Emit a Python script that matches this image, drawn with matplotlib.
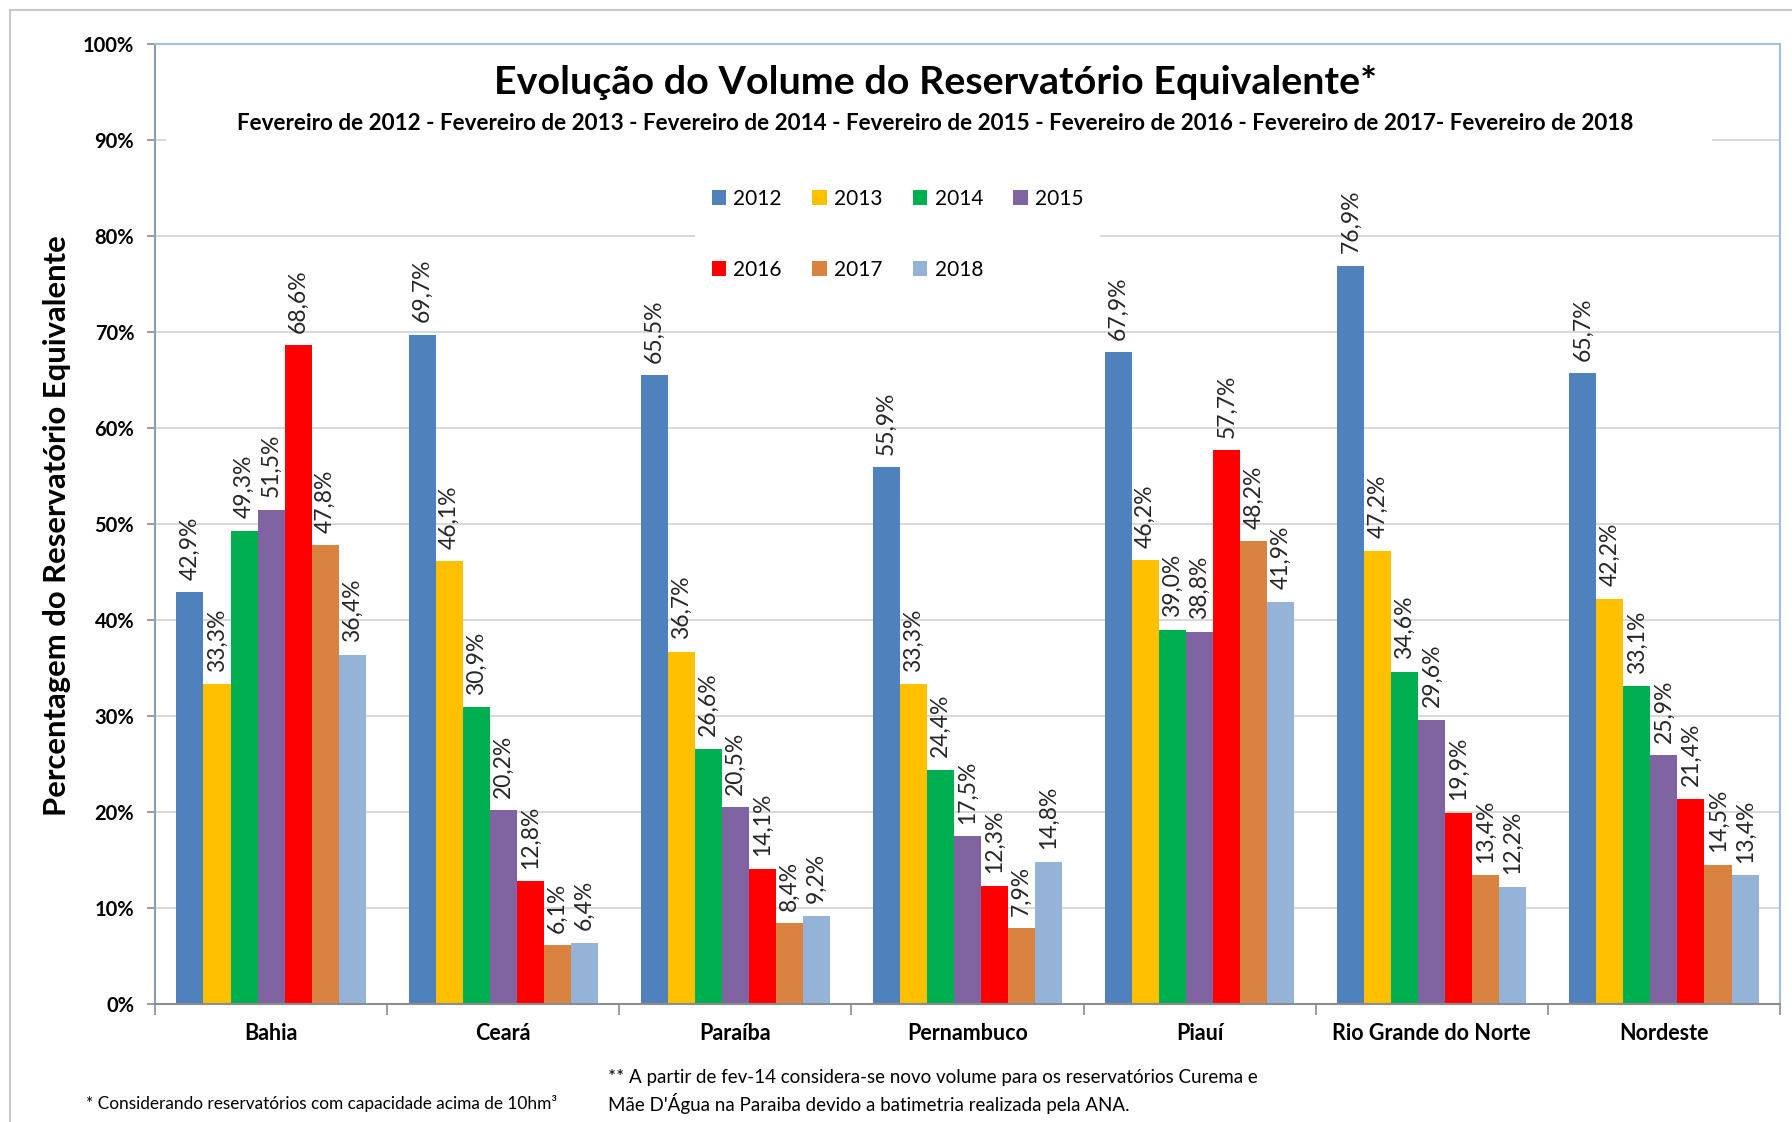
import matplotlib
matplotlib.use("Agg")
import matplotlib.pyplot as plt
import numpy as np
from matplotlib.patches import Rectangle
from matplotlib.lines import Line2D

plt.rcParams["font.family"] = ["Lato", "DejaVu Sans"]

categories = ["Bahia", "Ceará", "Paraíba", "Pernambuco", "Piauí",
              "Rio Grande do Norte", "Nordeste"]
years = ["2012", "2013", "2014", "2015", "2016", "2017", "2018"]

v2012 = [42.9, 69.7, 65.5, 55.9, 67.9, 76.9, 65.7]
v2013 = [33.3, 46.1, 36.7, 33.3, 46.2, 47.2, 42.2]
v2014 = [49.3, 30.9, 26.6, 24.4, 39.0, 34.6, 33.1]
v2015 = [51.5, 20.2, 20.5, 17.5, 38.8, 29.6, 25.9]
v2016 = [68.6, 12.8, 14.1, 12.3, 57.7, 19.9, 21.4]
v2017 = [47.8, 6.1, 8.4, 7.9, 48.2, 13.4, 14.5]
v2018 = [36.4, 6.4, 9.2, 14.8, 41.9, 12.2, 13.4]
series = [v2012, v2013, v2014, v2015, v2016, v2017, v2018]

colors = ["#4F81BD", "#FFC000", "#00B050", "#8064A2",
          "#FF0000", "#DA8340", "#95B3D7"]

fig = plt.figure(figsize=(17.92, 11.22), dpi=100)
ax = fig.add_axes([155 / 1792, 118 / 1122, 1625 / 1792, 960 / 1122])

x = np.arange(len(categories))
w = 0.1165
handles = []
for i, (vals, yr, c) in enumerate(zip(series, years, colors)):
    pos = x + (i - 3) * w
    b = ax.bar(pos, vals, width=w, color=c, label=yr, zorder=2)
    handles.append(b)
    for px, v in zip(pos, vals):
        ax.annotate(f"{v:.1f}%".replace(".", ","), (px, v),
                    xytext=(0, 9), textcoords="offset points",
                    rotation=90, ha="center", va="bottom",
                    fontsize=16.5, color="#262626", zorder=3)

ax.set_xlim(-0.5, len(categories) - 0.5)
ax.set_ylim(0, 100)
ax.set_yticks(np.arange(0, 101, 10))
ax.set_yticklabels([f"{t}%" for t in range(0, 101, 10)],
                   fontsize=14.5, fontweight="bold")
ax.set_xticks(x)
ax.set_xticklabels(categories, fontsize=15.5, fontweight="bold")
ax.set_xticks(np.arange(-0.5, len(categories)), minor=True)
ax.tick_params(axis="x", which="major", length=0, pad=14)
ax.tick_params(axis="x", which="minor", length=8, color="#8C8C8C", width=1.2)
ax.tick_params(axis="y", length=6, color="#8C8C8C", width=1.2, pad=9)

ax.grid(axis="y", color="#D9D9D9", linewidth=1.5, zorder=0)
ax.set_axisbelow(True)
ax.spines["left"].set_color("#8A9BB3")
ax.spines["bottom"].set_color("#8C8C8C")
ax.spines["top"].set_color("#A6BDDB")
ax.spines["right"].set_color("#A6BDDB")
for s in ax.spines.values():
    s.set_linewidth(1.5)

# white box behind the title block
ax.add_patch(Rectangle((0.007, 0.86), 0.951, 0.13, transform=ax.transAxes,
                       facecolor="white", edgecolor="none", zorder=1.5))

order = [0, 4, 1, 5, 2, 6, 3]
leg = ax.legend([handles[i] for i in order], [years[i] for i in order],
                ncol=4, loc="center", bbox_to_anchor=(0.457, 0.802),
                fontsize=15, frameon=True, facecolor="white", edgecolor="none",
                framealpha=1, fancybox=False, handlelength=0.7,
                handleheight=0.7, handletextpad=0.35, columnspacing=1.45,
                labelspacing=2.45, borderpad=0.8)
leg.set_zorder(4)

fig.text(935 / 1792, 1 - 82 / 1122,
         "Evolução do Volume do Reservatório Equivalente*",
         ha="center", va="center", fontsize=28.4, fontweight="bold")
fig.text(935 / 1792, 1 - 123 / 1122,
         "Fevereiro de 2012 - Fevereiro de 2013 - Fevereiro de 2014 - "
         "Fevereiro de 2015 - Fevereiro de 2016 - Fevereiro de 2017- "
         "Fevereiro de 2018",
         ha="center", va="center", fontsize=16.2, fontweight="bold")

fig.text(57 / 1792, 1 - 526 / 1122, "Percentagem do Reservatório Equivalente",
         rotation=90, ha="center", va="center", fontsize=22.3, fontweight="bold")

fig.text(86 / 1792, 1 - 1103 / 1122,
         "* Considerando reservatórios com capacidade acima de 10hm³",
         ha="left", va="center", fontsize=12.4)
fig.text(608 / 1792, 1 - 1077 / 1122,
         "** A partir de fev-14 considera-se novo volume para os "
         "reservatórios Curema e",
         ha="left", va="center", fontsize=13.5)
fig.text(608 / 1792, 1 - 1103 / 1122,
         "Mãe D'Água na Paraiba devido a batimetria realizada pela ANA.",
         ha="left", va="center", fontsize=13.5)

# outer chart border
fig.add_artist(Line2D([10 / 1792, 1], [1 - 10 / 1122, 1 - 10 / 1122],
                      transform=fig.transFigure, color="#C8C8C8", lw=1.5))
fig.add_artist(Line2D([10 / 1792, 10 / 1792], [0, 1 - 10 / 1122],
                      transform=fig.transFigure, color="#C8C8C8", lw=1.5))

fig.savefig("out.png", dpi=100, facecolor="white")
